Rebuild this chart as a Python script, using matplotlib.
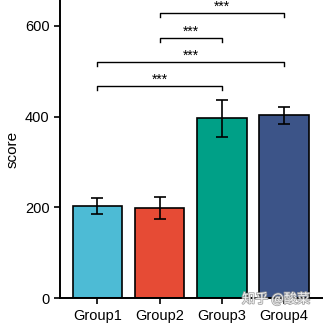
import matplotlib
matplotlib.use("Agg")
import matplotlib.pyplot as plt
import matplotlib.patheffects as pe

groups = ["Group1", "Group2", "Group3", "Group4"]
means = [203, 198, 396, 403]
errors = [17, 24, 41, 19]
colors = ["#4DBBD5", "#E64B35", "#00A087", "#3C5488"]

# significance brackets: (left group, right group, height, label)
comparisons = [(0, 2, 468, "***"), (0, 3, 521, "***"), (1, 2, 574, "***"), (1, 3, 628, "***")]
yticks = [0, 200, 400, 600]

plt.rcParams["font.family"] = ["Liberation Sans", "DejaVu Sans"]

fig = plt.figure(figsize=(3.23, 3.23), dpi=100)
ax = fig.add_axes([0.186, 0.077, 0.814, 0.923])

x = range(len(groups))
ax.bar(x, means, width=0.8, color=colors, edgecolor="black", linewidth=1.2, zorder=2)
ax.errorbar(x, means, yerr=errors, fmt="none", ecolor="black", elinewidth=1.2,
            capsize=4, capthick=1.2, zorder=3)

tick_h = 9
for i, j, h, lab in comparisons:
    ax.plot([i, i, j, j], [h - tick_h, h, h, h - tick_h], color="black", lw=1.0,
            clip_on=False)
    ax.text((i + j) / 2, h - 2, lab, ha="center", va="bottom", fontsize=10)

ax.set_xlim(-0.6, 3.63)
ax.set_ylim(0, 657)
ax.set_xticks(list(x))
ax.set_xticklabels(groups, fontsize=10.5)
ax.set_yticks(yticks)
ax.tick_params(axis="y", labelsize=10.5, length=4, width=1.2)
ax.tick_params(axis="x", length=4, width=1.2)
ax.set_ylabel("score", fontsize=11, labelpad=4)

for s in ["top", "right"]:
    ax.spines[s].set_visible(False)
for s in ["left", "bottom"]:
    ax.spines[s].set_linewidth(1.4)

fig.text(0.855, 0.075, "知乎 @酸菜", ha="center", va="center", fontsize=9.5,
         family=["Noto Sans CJK SC", "DejaVu Sans"], color="white", alpha=0.85,
         path_effects=[pe.withStroke(linewidth=1.2, foreground="#999999")])

fig.savefig("out.png", dpi=100)
